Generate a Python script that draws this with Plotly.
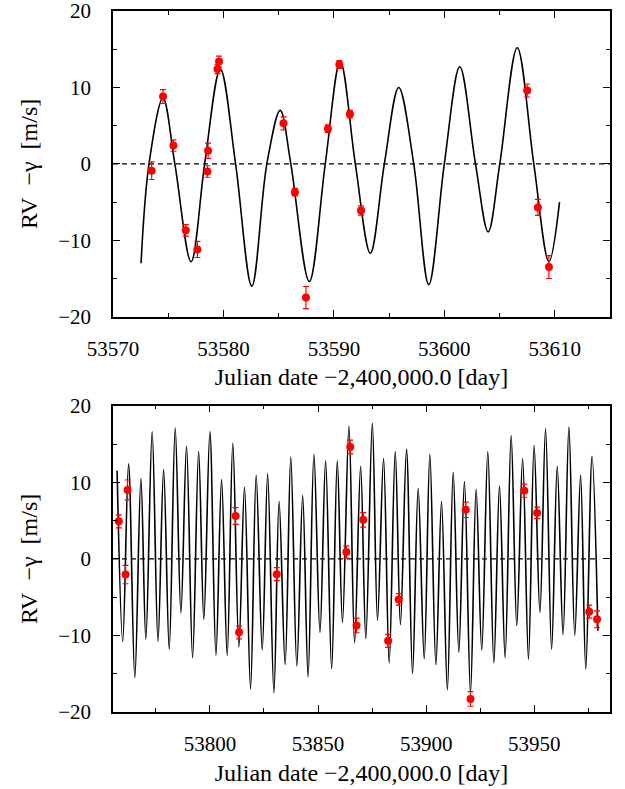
import plotly.graph_objects as go
from plotly.subplots import make_subplots

# ---- top panel: observed RVs (one season) ----
top_day = [53573.50, 53574.53, 53575.47, 53576.59, 53577.64, 53578.55, 53578.61,
           53579.46, 53579.60, 53585.44, 53586.47, 53587.47, 53589.46, 53590.49,
           53591.45, 53592.46, 53607.50, 53608.47, 53609.47]
top_rv = [-0.9, 8.8, 2.4, -8.7, -11.2, -1.0, 1.7,
          12.4, 13.4, 5.3, -3.7, -17.5, 4.6, 13.0,
          6.5, -6.1, 9.6, -5.7, -13.5]
top_err = [1.15, 0.9, 0.75, 0.75, 1.05, 0.75, 1.0,
           0.6, 0.7, 0.85, 0.5, 1.45, 0.5, 0.5,
           0.5, 0.6, 0.85, 1.05, 1.5]

# model curve (extrema and zero crossings)
top_model_day = [53572.54, 53573.26, 53574.53, 53575.60, 53577.07, 53578.30, 53579.72,
                 53581.10, 53582.57, 53583.93, 53585.14, 53586.10, 53587.77, 53589.22,
                 53590.58, 53591.94, 53593.30, 53594.57, 53595.87, 53597.23, 53598.59,
                 53600.00, 53601.40, 53602.82, 53603.97, 53605.02, 53606.60, 53608.10,
                 53609.47, 53610.43]
top_model_rv = [-13.0, 0.0, 8.6, 0.0, -12.8, 0.0, 12.4,
                0.0, -16.0, 0.0, 7.0, 0.0, -15.4, 0.0,
                13.4, 0.0, -11.7, 0.0, 10.0, 0.0, -15.8,
                0.0, 12.7, 0.0, -8.9, 0.0, 15.2, 0.0,
                -12.8, -5.0]

# ---- bottom panel: observed RVs (following season) ----
bot_day = [53757.9, 53761.0, 53761.95, 53811.9, 53813.5, 53830.9, 53863.1,
           53864.9, 53867.8, 53870.9, 53882.4, 53887.3, 53918.3, 53920.5,
           53945.4, 53951.3, 53975.4, 53979.0]
bot_rv = [4.9, -2.05, 9.0, 5.6, -9.6, -2.0, 0.9,
          14.6, -8.7, 5.1, -10.7, -5.3, 6.4, -18.3,
          8.9, 6.0, -6.9, -7.9]
bot_err = [0.85, 1.2, 1.3, 1.1, 0.85, 0.85, 0.8,
           0.9, 0.95, 0.95, 0.85, 0.75, 1.0, 0.95,
           0.85, 0.75, 0.85, 1.1]

# model curve extrema
bot_model_day = [53757.1, 53759.7, 53762.4, 53765.3, 53768.1, 53770.4, 53773.3, 53776.0,
                 53778.6, 53781.2, 53783.96, 53786.6, 53789.2, 53792.0, 53794.8, 53797.2,
                 53800.0, 53802.8, 53805.4, 53808.0, 53810.6, 53813.4, 53816.0, 53818.8,
                 53821.4, 53824.2, 53826.7, 53829.6, 53832.0, 53834.8, 53837.4, 53840.2,
                 53842.9, 53845.4, 53848.1, 53850.9, 53853.5, 53856.3, 53858.9, 53861.3,
                 53864.3, 53866.9, 53869.7, 53872.1, 53875.1, 53877.5, 53880.3, 53882.9,
                 53885.7, 53888.1, 53890.9, 53893.7, 53896.3, 53899.1, 53901.7, 53904.5,
                 53907.1, 53909.8, 53912.5, 53915.1, 53917.7, 53920.5, 53923.1, 53925.7,
                 53928.5, 53931.3, 53933.9, 53936.5, 53939.3, 53941.9, 53944.6, 53947.3,
                 53949.9, 53952.6, 53955.2, 53958.0, 53960.6, 53963.3, 53966.0, 53968.7,
                 53971.4, 53973.8, 53976.7, 53979.4]
bot_model_rv = [11.5, -10.8, 12.4, -15.5, 10.5, -10.5, 16.6, -10.75,
                11.65, -11.8, 17.1, -7.05, 14.7, -12.9, 14.0, -7.9,
                16.6, -12.6, 10.35, -12.6, 15.1, -11.5, 9.35, -17.0,
                10.9, -11.9, 11.1, -17.5, 7.5, -13.8, 13.3, -14.0,
                8.3, -15.4, 13.7, -9.6, 12.8, -14.35, 12.8, -8.3,
                17.3, -10.95, 12.1, -10.4, 17.7, -8.0, 13.1, -13.6,
                14.0, -8.6, 14.3, -15.0, 9.2, -13.05, 13.7, -13.8,
                7.5, -17.1, 11.3, -12.2, 10.1, -17.5, 9.1, -11.9,
                14.0, -13.6, 9.5, -12.9, 16.1, -8.7, 13.1, -13.1,
                14.8, -7.0, 17.0, -11.8, 12.1, -9.9, 17.2, -10.0,
                10.9, -14.4, 13.4, -9.4]

top_range = [53570, 53615]
bot_range = [53755.2, 53985]
bot_zero_span = [53755.2, 53980]

FONT = "Liberation Serif"
RED = "#ff0000"

fig = make_subplots(rows=2, cols=1, vertical_spacing=0.127)


def add_panel(row, model_day, model_rv, day, rv, err, zero_span):
    fig.add_trace(
        go.Scatter(x=zero_span, y=[0, 0], mode="lines",
                   line=dict(color="black", width=1.2, dash="5px,4px"),
                   showlegend=False, hoverinfo="skip"),
        row=row, col=1,
    )
    fig.add_trace(
        go.Scatter(x=model_day, y=model_rv, mode="lines",
                   line=dict(color="black", width=1.6, shape="spline", smoothing=1.0),
                   showlegend=False),
        row=row, col=1,
    )
    fig.add_trace(
        go.Scatter(x=day, y=rv, mode="markers",
                   marker=dict(color=RED, size=8),
                   error_y=dict(type="data", array=err, color=RED, thickness=1.2, width=3),
                   showlegend=False),
        row=row, col=1,
    )


add_panel(1, top_model_day, top_model_rv, top_day, top_rv, top_err, top_range)
add_panel(2, bot_model_day, bot_model_rv, bot_day, bot_rv, bot_err, bot_zero_span)

axis_common = dict(
    showline=True, linecolor="black", linewidth=1.5, mirror="ticks",
    ticks="inside", ticklen=7, tickwidth=1, tickcolor="black",
    showgrid=False, zeroline=False, ticklabeloverflow="allow",
    tickfont=dict(family=FONT, size=21, color="black"),
    title_font=dict(family=FONT, size=24, color="black"),
)

xtitle = "Julian date \u22122,400,000.0 [day]"
ytitle = "RV\u2002\u2212\u03b3\u2002[m/s]"

fig.update_xaxes(**axis_common, range=top_range, dtick=10, tick0=53570, tickformat="d",
                 minor=dict(dtick=5, ticks="inside", ticklen=4, tickcolor="black"),
                 ticklabelstandoff=12, title_text=xtitle, title_standoff=9, row=1, col=1)
fig.update_xaxes(**axis_common, range=bot_range, dtick=50, tick0=53800, tickformat="d",
                 minor=dict(dtick=25, ticks="inside", ticklen=4, tickcolor="black"),
                 ticklabelstandoff=12, title_text=xtitle, title_standoff=9, row=2, col=1)
for r in (1, 2):
    fig.update_yaxes(**axis_common, range=[-20, 20], dtick=10,
                     minor=dict(dtick=5, ticks="inside", ticklen=4, tickcolor="black"),
                     ticklabelstandoff=16, title_text=ytitle, title_standoff=14, row=r, col=1)

fig.update_layout(
    width=625, height=789,
    margin=dict(l=113, r=15, t=11, b=77, autoexpand=False),
    paper_bgcolor="white", plot_bgcolor="white",
    font=dict(family=FONT, size=21, color="black"),
)
fig.layout.yaxis.domain = [0.5639, 1.0]
fig.layout.yaxis2.domain = [0.0, 0.4369]

# drop the browser's default 8px body margin so the figure fills the window
fig.write_html("out.html", config={"displayModeBar": False},
               post_script="document.body.style.margin='0';")
